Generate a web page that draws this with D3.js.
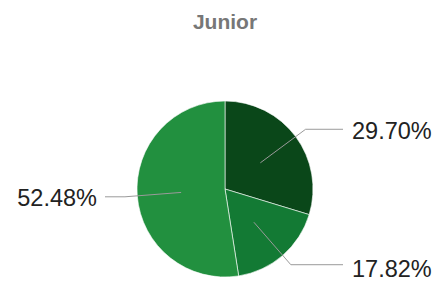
<!DOCTYPE html>
<html>
<head>
<meta charset="utf-8">
<script src="https://cdn.jsdelivr.net/npm/d3@7"></script>
<style>
  body { margin: 0; background: #fff; }
  svg { display: block; }
</style>
</head>
<body>
<svg width="440" height="284"></svg>
<script>
const title = 'Junior';
const labels = ['29.70%', '17.82%', '52.48%'];
const values = [29.70, 17.82, 52.48];
const colors = ['#0a4719', '#137a34', '#22903f'];

const svg = d3.select('svg');
const cx = 225, cy = 189, radius = 88;

svg.append('text')
  .attr('x', 225)
  .attr('y', 29)
  .attr('text-anchor', 'middle')
  .attr('font-family', 'Liberation Sans, Arial, sans-serif')
  .attr('font-weight', 'bold')
  .attr('font-size', 21)
  .attr('fill', '#777')
  .text(title);

const pie = d3.pie().sort(null).value(d => d);
const arcs = pie(values);

const arc = d3.arc().innerRadius(0).outerRadius(radius);

const g = svg.append('g').attr('transform', `translate(${cx},${cy})`);

g.selectAll('path')
  .data(arcs)
  .join('path')
  .attr('d', arc)
  .attr('fill', (d, i) => colors[i])
  .attr('stroke', '#fff')
  .attr('stroke-opacity', 0.6)
  .attr('stroke-width', 1);

// leader lines: from inside slice to an elbow just outside, then level
const innerArc = d3.arc().innerRadius(radius * 0.5).outerRadius(radius * 0.5);
const outerArc = d3.arc().innerRadius(radius * 1.14).outerRadius(radius * 1.14);

function midAngle(d) { return (d.startAngle + d.endAngle) / 2; }

arcs.forEach((d, i) => {
  const a = innerArc.centroid(d);
  const b = outerArc.centroid(d);
  const right = midAngle(d) < Math.PI;
  const endX = right ? 118 : -120;
  g.append('polyline')
    .attr('points', [a, b, [endX, b[1]]].map(p => p.join(',')).join(' '))
    .attr('fill', 'none')
    .attr('stroke', '#9a9a9a')
    .attr('stroke-width', 1);
  g.append('text')
    .attr('x', right ? endX + 9 : endX - 8)
    .attr('y', b[1] + (b[1] > 40 ? 4 : 1))
    .attr('dy', '0.35em')
    .attr('text-anchor', right ? 'start' : 'end')
    .attr('font-family', 'Liberation Sans, Arial, sans-serif')
    .attr('font-size', 23.5)
    .attr('fill', '#222')
    .text(labels[i]);
});
</script>
</body>
</html>
